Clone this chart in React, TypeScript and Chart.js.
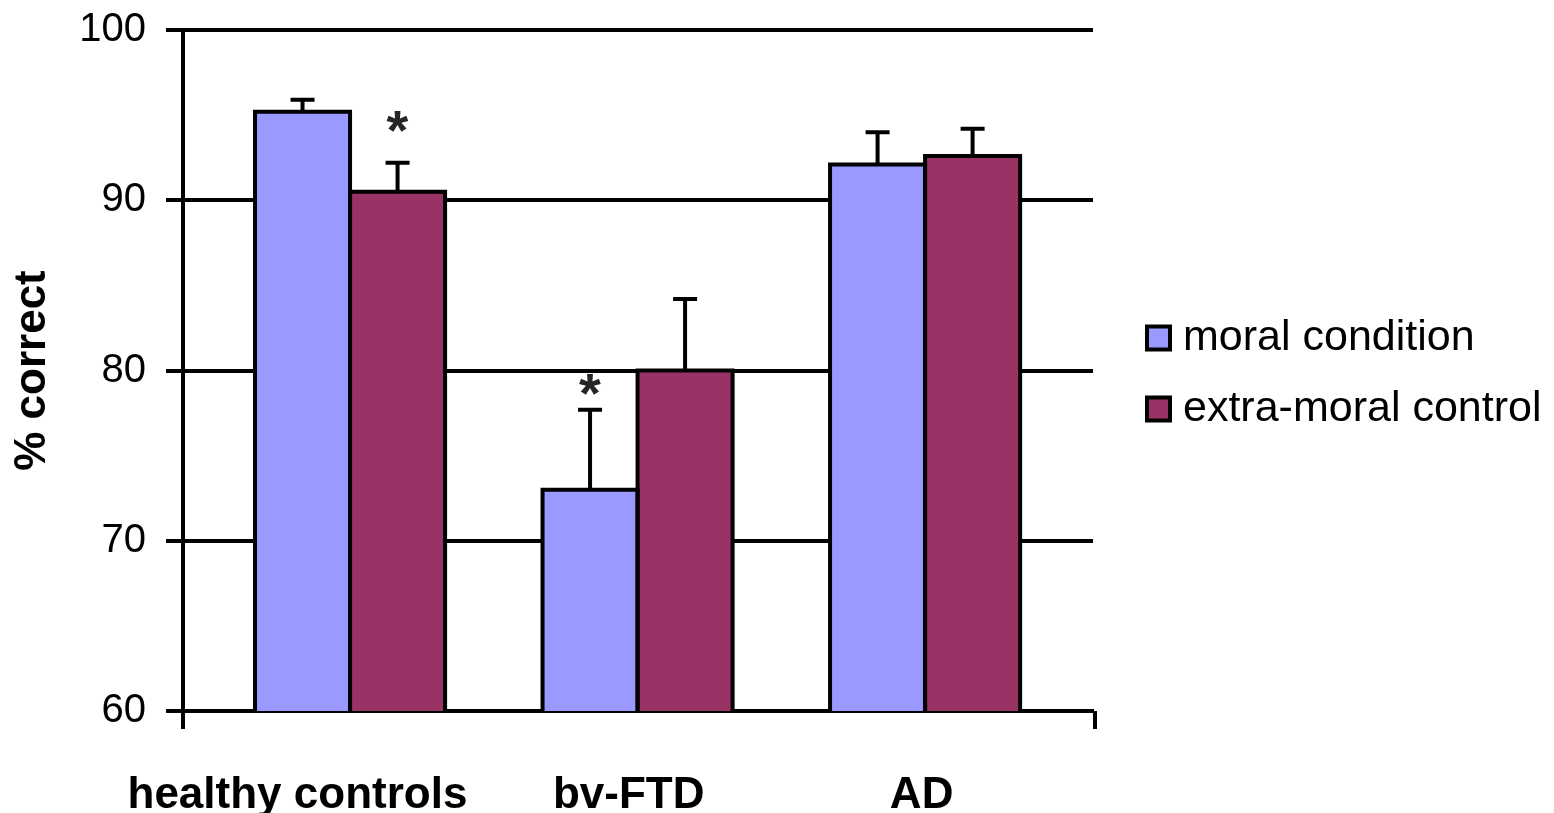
import React, { useEffect, useRef } from 'react';
import { Chart, registerables } from 'chart.js';

Chart.register(...registerables);

// ---- data ----
const categories = ['healthy controls', 'bv-FTD', 'AD'];
const seriesNames = ['moral condition', 'extra-moral control'];
const moralValues = [95.2, 73.0, 92.1];
const extraValues = [90.5, 80.0, 92.6];
const moralErrors = [0.7, 4.7, 1.9];
const extraErrors = [1.7, 4.2, 1.6];
// significance asterisks (value level where the * sits), null = none
const moralStars: (number | null)[] = [null, 79.2, null];
const extraStars: (number | null)[] = [94.6, null, null];
const yTicks = [60, 70, 80, 90, 100];

const COLORS = ['#9999FF', '#993366'];
const FONT = '"Liberation Sans", Arial, sans-serif';

// Excel-style bar outlines (stroke centred on the bar edges) + error bars + asterisks
const barDecorPlugin = {
  id: 'barDecor',
  afterDatasetsDraw(chart: any) {
    const ctx = chart.ctx;
    const y = chart.scales.y;
    const bottom = chart.chartArea.bottom;
    ctx.save();
    ctx.strokeStyle = '#000';
    ctx.lineWidth = 4;
    ctx.lineCap = 'butt';
    ctx.lineJoin = 'miter';
    chart.data.datasets.forEach((_ds: any, di: number) => {
      const meta = chart.getDatasetMeta(di);
      meta.data.forEach((bar: any) => {
        const l = bar.x - bar.width / 2;
        const r = bar.x + bar.width / 2;
        const b = Math.min(bar.base, bottom);
        ctx.beginPath();
        ctx.moveTo(l, b);
        ctx.lineTo(l, bar.y);
        ctx.lineTo(r, bar.y);
        ctx.lineTo(r, b);
        ctx.stroke();
      });
    });
    chart.data.datasets.forEach((ds: any, di: number) => {
      const meta = chart.getDatasetMeta(di);
      meta.data.forEach((bar: any, i: number) => {
        const v = ds.data[i].y;
        const top = y.getPixelForValue(v + ds.errors[i]);
        ctx.beginPath();
        ctx.moveTo(bar.x, bar.y);
        ctx.lineTo(bar.x, top);
        ctx.moveTo(bar.x - 12, top);
        ctx.lineTo(bar.x + 12, top);
        ctx.stroke();
        const s = ds.stars[i];
        if (s != null) {
          const sy = y.getPixelForValue(s);
          ctx.font = `bold 56px ${FONT}`;
          ctx.fillStyle = '#262626';
          ctx.textAlign = 'left';
          ctx.textBaseline = 'alphabetic';
          const m = ctx.measureText('*');
          const w = m.actualBoundingBoxLeft + m.actualBoundingBoxRight;
          const h = m.actualBoundingBoxAscent + m.actualBoundingBoxDescent;
          const x0 = bar.x - w / 2 + m.actualBoundingBoxLeft;
          const y0 = sy - h / 2 + m.actualBoundingBoxAscent;
          ctx.fillText('*', x0, y0);
        }
      });
    });
    ctx.restore();
  },
};

const axisEndTicks = {
  id: 'axisEndTicks',
  afterDraw(chart: any) {
    const { ctx, chartArea } = chart;
    ctx.save();
    ctx.strokeStyle = '#000';
    ctx.lineWidth = 4;
    ctx.beginPath();
    ctx.moveTo(chartArea.left, chartArea.bottom);
    ctx.lineTo(chartArea.left, chartArea.bottom + 18);
    ctx.moveTo(chartArea.right + 2, chartArea.bottom);
    ctx.lineTo(chartArea.right + 2, chartArea.bottom + 18);
    ctx.stroke();
    ctx.restore();
  },
};

const legendPlugin = {
  id: 'customLegend',
  afterDraw(chart: any) {
    const { ctx, chartArea } = chart;
    const mid = (chartArea.top + chartArea.bottom) / 2 + 3;
    const rows = [mid - 35.5, mid + 35.5];
    const bx = chartArea.right + 52;
    const size = 27;
    ctx.save();
    seriesNames.forEach((name, i) => {
      const cy = rows[i];
      ctx.fillStyle = '#000';
      ctx.fillRect(bx, cy - size / 2, size, size);
      ctx.fillStyle = COLORS[i];
      ctx.fillRect(bx + 4, cy - size / 2 + 4, size - 8, size - 8);
      ctx.fillStyle = '#000';
      ctx.font = `43px ${FONT}`;
      ctx.textAlign = 'left';
      ctx.textBaseline = 'middle';
      ctx.fillText(name, bx + size + 11, cy);
    });
    ctx.restore();
  },
};

export default function App() {
  const ref = useRef<HTMLCanvasElement | null>(null);

  useEffect(() => {
    if (!ref.current) return;
    const labelShift = [-0.183, -0.031, -0.012];
    const chart = new Chart(ref.current, {
      type: 'bar',
      data: {
        datasets: [
          {
            label: seriesNames[0],
            data: moralValues.map((v, i) => ({ x: i, y: v })),
            backgroundColor: COLORS[0],
            borderWidth: 0,
            inflateAmount: 0,
            barPercentage: 1,
            categoryPercentage: 0.661,
            errors: moralErrors,
            stars: moralStars,
          } as any,
          {
            label: seriesNames[1],
            data: extraValues.map((v, i) => ({ x: i, y: v })),
            backgroundColor: COLORS[1],
            borderWidth: 0,
            inflateAmount: 0,
            barPercentage: 1,
            categoryPercentage: 0.661,
            errors: extraErrors,
            stars: extraStars,
          } as any,
        ],
      },
      options: {
        responsive: false,
        animation: false,
        layout: { padding: { left: 0, right: 461, top: 30, bottom: 0 } },
        plugins: {
          legend: { display: false },
          tooltip: { enabled: false },
        },
        scales: {
          x: {
            type: 'linear',
            offset: false,
            min: -0.581,
            max: 2.584,
            grid: { display: false, drawTicks: false, offset: false },
            border: { display: true, color: '#000', width: 4 },
            afterBuildTicks: (scale: any) => {
              scale.ticks = categories.map((_, i) => ({ value: i + labelShift[i] }));
            },
            afterFit: (scale: any) => {
              scale.height = 102;
              scale.paddingLeft = 0;
              scale.paddingRight = 0;
            },
            ticks: {
              autoSkip: false,
              maxRotation: 0,
              padding: 58,
              color: '#000',
              font: { family: FONT, size: 44, weight: 'bold' },
              callback: (_v: any, i: number) => categories[i],
            },
          },
          y: {
            min: 60,
            max: 100,
            afterBuildTicks: (scale: any) => {
              scale.ticks = yTicks.map((v) => ({ value: v }));
            },
            afterFit: (scale: any) => {
              scale.width = 183;
              scale.paddingTop = 0;
              scale.paddingBottom = 0;
            },
            grid: { color: '#000', lineWidth: 4, tickLength: 17, drawTicks: true },
            border: { display: true, color: '#000', width: 4 },
            ticks: {
              color: '#000',
              padding: 20,
              font: { family: FONT, size: 40 },
            },
            title: {
              display: true,
              text: '% correct',
              color: '#000',
              padding: { top: 6, bottom: 0 },
              font: { family: FONT, size: 44, weight: 'bold' },
            },
          },
        },
      } as any,
      plugins: [barDecorPlugin, axisEndTicks, legendPlugin],
    });
    return () => chart.destroy();
  }, []);

  return (
    <div style={{ position: 'absolute', left: 0, top: 0, width: 1554, height: 813, background: '#fff' }}>
      <canvas ref={ref} width={1554} height={813} style={{ display: 'block' }} />
    </div>
  );
}
